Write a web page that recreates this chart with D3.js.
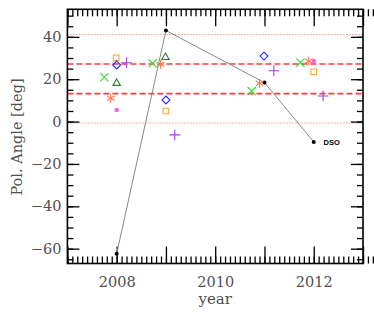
<!DOCTYPE html>
<html>
<head>
<meta charset="utf-8">
<script src="https://cdn.jsdelivr.net/npm/d3@7"></script>
<style>
  body { margin: 0; background: white; }
  svg text { font-family: "DejaVu Serif", serif; fill: #505050; }
  svg text.dso { font-family: "Liberation Sans", Arial, sans-serif; font-weight: bold; fill: #000; }
  .axis path { display: none; }
  .axis line { stroke: #000; stroke-width: 1.3; }
</style>
</head>
<body>
<svg id="chart" width="374" height="312"></svg>
<script>
// DSO track (black dots joined by a grey line)
const dsoYear = [2008.0, 2009.0, 2011.0, 2012.0];
const dsoAngle = [-62.4, 43.0, 18.4, -9.6];

// other sources, one array pair each
const crossYear = [2007.75, 2008.73, 2010.74, 2011.73];
const crossAngle = [20.9, 27.5, 14.4, 27.8];
const starYear = [2007.88, 2008.89, 2010.90, 2011.90];
const starAngle = [11.0, 27.0, 18.1, 28.6];
const triYear = [2008.0, 2008.99];
const triAngle = [18.1, 30.3];
const diamondYear = [2008.0, 2009.0, 2010.99];
const diamondAngle = [26.7, 10.2, 30.9];
const squareYear = [2007.99, 2009.0, 2012.0];
const squareAngle = [30.1, 5.0, 23.5];
const dotYear = [2008.0, 2012.0];
const dotAngle = [5.5, 28.6];
const plusYear = [2008.2, 2009.18, 2011.19, 2012.19];
const plusAngle = [27.8, -6.3, 24.0, 12.1];

// reference levels
const dashedLevels = [27.2, 13.2];
const dottedLevels = [41.1, -0.7];

const xTickLabels = [2008, 2010, 2012];
const yTickLabels = [-60, -40, -20, 0, 20, 40];

const svg = d3.select("#chart");
const pLeft = 67.4, pRight = 363, pTop = 9.3, pBottom = 263.5;

const x = d3.scaleLinear().domain([2007, 2013]).range([pLeft, pRight]);
const y = d3.scaleLinear().domain([-67, 53]).range([pBottom, pTop]);

// reference lines
svg.selectAll("line.dashed").data(dashedLevels).enter().append("line")
  .attr("x1", pLeft).attr("x2", pRight)
  .attr("y1", d => y(d)).attr("y2", d => y(d))
  .attr("stroke", "#ff3b3b").attr("stroke-width", 1.6)
  .attr("stroke-dasharray", "6,3");
svg.selectAll("line.dotted").data(dottedLevels).enter().append("line")
  .attr("x1", pLeft).attr("x2", pRight)
  .attr("y1", d => y(d)).attr("y2", d => y(d))
  .attr("stroke", "#ff5050").attr("stroke-width", 0.9)
  .attr("stroke-dasharray", "1,2");

// ticks on all four sides, pointing in
function ticks(axisFn, pos, values, size) {
  svg.append("g").attr("class", "axis")
    .attr("transform", pos)
    .call(axisFn.tickValues(values).tickSize(size).tickFormat(""));
}
const xMinor = d3.range(70).map(i => 2007 + i * 0.1);
const xMajor = d3.range(2007, 2014);
const yMinor = d3.range(-65, 55, 5);
const yMajor = d3.range(-60, 60, 20);
ticks(d3.axisBottom(x), `translate(0,${pBottom})`, xMinor, -7);
ticks(d3.axisBottom(x), `translate(0,${pBottom})`, xMajor, -17);
ticks(d3.axisTop(x), `translate(0,${pTop})`, xMinor, -7);
ticks(d3.axisTop(x), `translate(0,${pTop})`, xMajor, -17);
ticks(d3.axisLeft(y), `translate(${pLeft},0)`, yMinor, -6);
ticks(d3.axisLeft(y), `translate(${pLeft},0)`, yMajor, -12);
ticks(d3.axisRight(y), `translate(${pRight},0)`, yMinor, -6);
ticks(d3.axisRight(y), `translate(${pRight},0)`, yMajor, -12);

// tick labels
svg.append("g").attr("class", "axis")
  .attr("transform", `translate(0,${pBottom})`)
  .call(d3.axisBottom(x).tickValues(xTickLabels).tickFormat(d3.format("d")).tickSize(0).tickPadding(13))
  .selectAll("text").attr("font-size", 14.5);
svg.append("g").attr("class", "axis")
  .attr("transform", `translate(${pLeft},0)`)
  .call(d3.axisLeft(y).tickValues(yTickLabels).tickSize(0).tickPadding(6))
  .selectAll("text").attr("font-size", 14.5);

// frame
svg.append("rect")
  .attr("x", pLeft).attr("y", pTop)
  .attr("width", pRight - pLeft).attr("height", pBottom - pTop)
  .attr("fill", "none").attr("stroke", "#000").attr("stroke-width", 1.6);

// axis titles
svg.append("text").attr("x", (pLeft + pRight) / 2).attr("y", 304)
  .attr("text-anchor", "middle").attr("font-size", 15).text("year");
svg.append("text")
  .attr("transform", "translate(22,137) rotate(-90)")
  .attr("text-anchor", "middle").attr("font-size", 14.5).text("Pol. Angle [deg]");

// DSO line and points
const pts = dsoYear.map((d, i) => [d, dsoAngle[i]]);
svg.append("path").datum(pts)
  .attr("d", d3.line().x(d => x(d[0])).y(d => y(d[1])))
  .attr("fill", "none").attr("stroke", "#888").attr("stroke-width", 1);
svg.selectAll("circle.dso").data(pts).enter().append("circle")
  .attr("cx", d => x(d[0])).attr("cy", d => y(d[1])).attr("r", 2)
  .attr("fill", "#000");
svg.append("text").attr("class", "dso")
  .attr("x", x(2012.2)).attr("y", y(-9.6) + 3)
  .attr("font-size", 7.5).text("DSO");

// markers
function markers(xs, ys, type, size, color, filled) {
  const sym = d3.symbol().type(type).size(size);
  svg.append("g").selectAll("path").data(xs).enter().append("path")
    .attr("transform", (d, i) => `translate(${x(d)},${y(ys[i])})`)
    .attr("d", sym)
    .attr("fill", filled ? color : "none")
    .attr("stroke", filled ? "none" : color)
    .attr("stroke-width", 1.1);
}
markers(squareYear, squareAngle, d3.symbolSquare2, 40, "#ffa830", false);
markers(diamondYear, diamondAngle, d3.symbolDiamond2, 40, "#2a2aff", false);
markers(triYear, triAngle, d3.symbolTriangle2, 40, "#2e7d2e", false);
markers(crossYear, crossAngle, d3.symbolX, 45, "#33dd33", false);
markers(starYear, starAngle, d3.symbolAsterisk, 55, "#ff7a50", false);
markers(plusYear, plusAngle, d3.symbolPlus, 40, "#a040e8", false);
markers(dotYear, dotAngle, d3.symbolCircle, 16, "#ee66ee", true);
</script>
</body>
</html>
